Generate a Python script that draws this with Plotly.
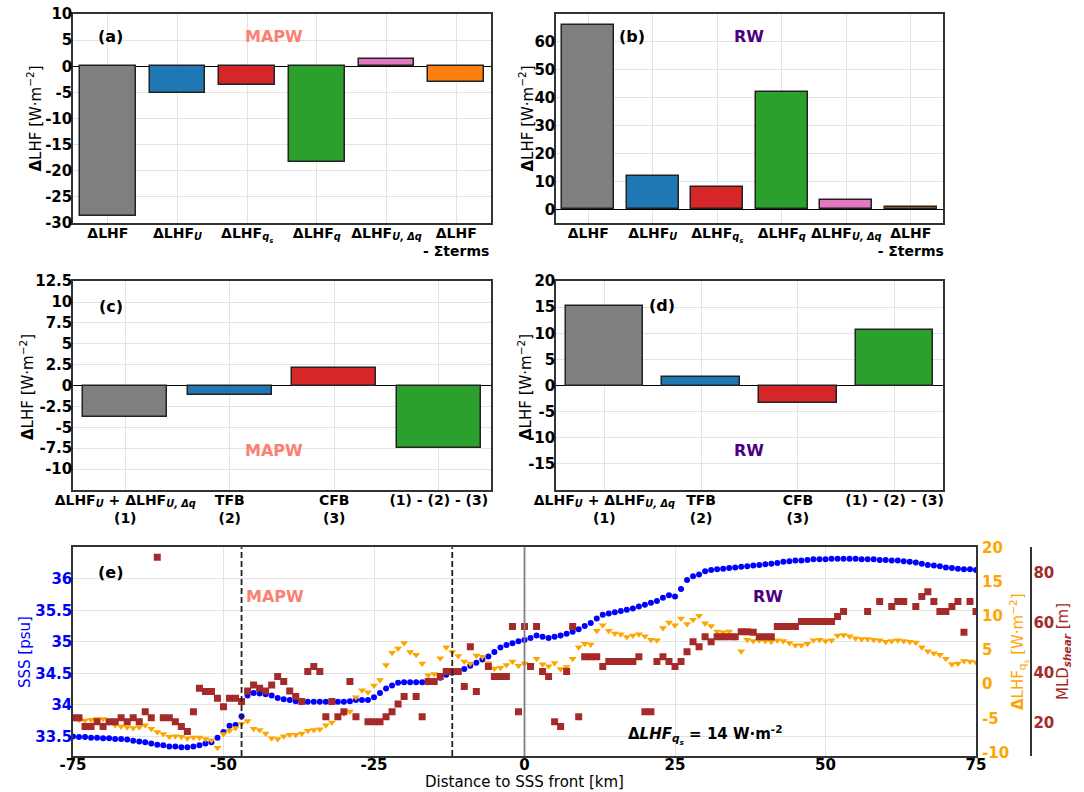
import plotly.graph_objects as go

# ---------------- bar panels (a)-(d) ----------------
term_labels = [
    "<b>ΔLHF</b>",
    "<b>ΔLHF<sub><i>U</i></sub></b>",
    "<b>ΔLHF<sub><i>q<sub>s</sub></i></sub></b>",
    "<b>ΔLHF<sub><i>q</i></sub></b>",
    "<b>ΔLHF<sub><i>U, Δq</i></sub></b>",
    "<b>ΔLHF<br>- Σterms</b>",
]
mapw_terms = [-28.7, -5.2, -3.5, -18.3, 1.35, -3.06]
rw_terms = [65.9, 11.9, 7.9, 42.1, 3.2, 0.8]

feedback_labels = [
    "<b>ΔLHF<sub><i>U</i></sub> + ΔLHF<sub><i>U, Δq</i></sub><br>(1)</b>",
    "<b>TFB<br>(2)</b>",
    "<b>CFB<br>(3)</b>",
    "<b>(1) - (2) - (3)</b>",
]
mapw_feedback = [-3.78, -1.07, 2.15, -7.48]
rw_feedback = [15.2, 1.67, -3.37, 10.6]

bar_colors = ["#7f7f7f", "#1f77b4", "#d62728", "#2ca02c", "#e377c2", "#ff7f0e"]

# ---------------- transect panel (e) ----------------
distance_km = list(range(-75, 76))

sss_psu = [
    33.50, 33.49, 33.49, 33.48, 33.48, 33.47, 33.47, 33.46, 33.46, 33.45,
    33.43, 33.42, 33.41, 33.39, 33.37, 33.36, 33.34, 33.34, 33.33, 33.33,
    33.34, 33.36, 33.39, 33.41, 33.48, 33.57, 33.67, 33.68, 33.82, 34.15,
    34.19, 34.18, 34.17, 34.15, 34.11, 34.09, 34.08, 34.06, 34.06, 34.05,
    34.05, 34.05, 34.05, 34.05, 34.05, 34.05, 34.06, 34.08, 34.08, 34.08,
    34.12, 34.19, 34.26, 34.31, 34.35, 34.36, 34.36, 34.36, 34.36, 34.36,
    34.38, 34.43, 34.48, 34.51, 34.53, 34.57, 34.62, 34.67, 34.72, 34.77,
    34.84, 34.91, 34.95, 34.98, 35.01, 35.03, 35.06, 35.10, 35.08, 35.06,
    35.08, 35.10, 35.13, 35.16, 35.20, 35.25, 35.30, 35.37, 35.43, 35.45,
    35.47, 35.49, 35.51, 35.53, 35.56, 35.59, 35.62, 35.65, 35.70, 35.74,
    35.72, 35.84, 35.98, 36.04, 36.07, 36.12, 36.14, 36.15, 36.16, 36.17,
    36.18, 36.19, 36.20, 36.21, 36.22, 36.23, 36.24, 36.25, 36.27, 36.28,
    36.29, 36.29, 36.30, 36.31, 36.31, 36.31, 36.32, 36.32, 36.32, 36.32,
    36.32, 36.31, 36.31, 36.31, 36.30, 36.30, 36.29, 36.29, 36.28, 36.27,
    36.26, 36.24, 36.22, 36.21, 36.20, 36.18, 36.17, 36.16, 36.15, 36.15,
    36.14,
]

lhf_qs = [
    -5.0, -5.2, -5.3, -5.2, -5.1, -5.1, -5.6, -6.0, -6.2, -6.3,
    -6.4, -6.3, -6.0, -6.5, -7.0, -7.3, -7.7, -7.6, -7.7, -7.9,
    -7.8, -7.8, -8.0, -8.2, -9.3, -7.3, -6.8, -6.4, -5.8, -5.4,
    -6.5, -6.7, -7.2, -7.9, -8.0, -7.6, -7.4, -7.4, -7.2, -6.8,
    -6.7, -6.6, -6.0, -5.6, -4.6, -4.3, -4.0, -1.9, -0.9, -1.2,
    -0.2, 0.6, 2.8, 4.6, 5.2, 6.0, 4.7, 4.3, 3.0, 1.3,
    1.5, 3.8, 5.4, 4.7, 4.1, 3.3, 3.0, 4.2, 4.0, 3.1,
    2.3, 2.4, 2.8, 3.3, 2.7, 3.0, 2.8, 3.7, 2.9, 2.6,
    3.1, 2.2, 2.5, 3.7, 5.4, 5.9, 5.8, 7.8, 8.6, 7.8,
    7.4, 7.3, 6.9, 7.1, 7.3, 7.0, 6.5, 6.4, 8.2, 9.0,
    8.6, 9.6, 8.8, 9.4, 10.0, 8.9, 8.5, 7.7, 7.6, 7.7,
    6.8, 4.8, 6.5, 6.3, 6.4, 6.3, 6.2, 6.4, 6.3, 6.0,
    5.7, 5.7, 5.9, 6.4, 6.5, 6.3, 6.4, 7.1, 7.2, 7.0,
    6.7, 6.6, 6.6, 6.5, 6.4, 6.2, 6.3, 6.4, 6.3, 6.2,
    6.1, 5.4, 4.8, 4.5, 4.3, 3.7, 2.9, 3.0, 3.4, 3.3,
    3.2,
]

mld_shear = [
    22.0, 22.0, 18.4, 18.4, 20.4, 18.4, 20.4, 20.4, 22.0, 20.4,
    22.0, 20.4, 24.4, 22.0, 86.4, 22.0, 22.0, 20.4, 18.4, 16.4,
    24.4, 33.8, 32.5, 32.5, 29.8, 26.4, 29.8, 29.8, 28.5, 32.7,
    35.1, 33.8, 32.7, 35.1, 38.5, 36.5, 32.7, 30.5, 28.5, 40.5,
    42.5, 40.5, 22.4, 28.5, 22.4, 24.4, 36.5, 22.4, None, 20.4,
    20.4, 20.4, 22.4, 24.4, 27.5, 30.5, None, 30.5, 22.4, 36.5,
    36.5, 38.5, 40.5, 40.5, 40.5, 34.5, 50.5, 32.5, None, 42.5,
    38.5, 38.5, 38.5, 58.6, 24.4, 58.6, 42.5, 58.6, 40.5, 38.5,
    20.4, 18.4, 40.5, 58.6, 22.4, 46.5, 46.5, 46.5, 42.5, 44.5,
    44.5, 44.5, 44.5, 44.5, 46.5, 24.4, 24.4, 44.5, 46.5, 44.5,
    42.5, 44.5, 48.5, 52.5, 50.5, 54.5, 52.5, 54.5, 54.5, 54.5,
    54.5, 56.5, 56.5, 56.3, 54.5, 54.5, 54.5, 58.6, 58.6, 58.6,
    58.6, 60.6, 60.6, 60.6, 60.6, 60.6, 60.6, 62.6, 64.6, None,
    None, None, 64.6, None, 68.6, None, 66.6, 68.6, 68.6, None,
    66.6, 70.6, 72.6, 68.6, 64.6, 64.6, 66.6, 68.6, 56.3, 68.6,
    64.6,
]

front_bounds_km = [-47, -12]

# ---------------- styling ----------------
FONT = "DejaVu Sans"
FRAME = "#333333"
GRID = "#e3e3e3"
SALMON = "#fa8072"
INDIGO = "#4b0082"
SSS_COLOR = "#0000ff"
LHF_COLOR = "#ffa500"
MLD_COLOR = "#a52a2a"
TICK_FONT = dict(family=FONT, size=15, color="black", weight="bold")
CAT_FONT = dict(family=FONT, size=14, color="black", weight="bold")
STANDOFF = -4

fig = go.Figure()


def add_bars(values, colors, xa, ya):
    fig.add_trace(go.Bar(
        x=list(range(len(values))), y=values, width=0.8,
        marker=dict(color=colors, line=dict(color="#222222", width=1.5)),
        xaxis=xa, yaxis=ya, showlegend=False, hoverinfo="y",
    ))


add_bars(mapw_terms, bar_colors, "x", "y")
add_bars(rw_terms, bar_colors, "x2", "y2")
add_bars(mapw_feedback, bar_colors[:4], "x3", "y3")
add_bars(rw_feedback, bar_colors[:4], "x4", "y4")

fig.add_trace(go.Scatter(
    x=distance_km, y=sss_psu, mode="markers",
    marker=dict(symbol="circle", size=6, color=SSS_COLOR),
    xaxis="x5", yaxis="y5", showlegend=False,
))
fig.add_trace(go.Scatter(
    x=distance_km, y=lhf_qs, mode="markers",
    marker=dict(symbol="triangle-down", size=7, color=LHF_COLOR),
    xaxis="x5", yaxis="y6", showlegend=False,
))
fig.add_trace(go.Scatter(
    x=distance_km, y=mld_shear, mode="markers",
    marker=dict(symbol="square", size=7, color=MLD_COLOR),
    xaxis="x5", yaxis="y7", showlegend=False,
))


def fmt(v):
    return str(int(v)) if float(v).is_integer() else str(v)


def cat_axis(domain, labels, anchor):
    n = len(labels)
    return dict(
        domain=domain, anchor=anchor, range=[-0.5, n - 0.5],
        tickvals=list(range(n)), ticktext=labels, tickangle=0, automargin=False,
        showgrid=True, gridcolor=GRID, zeroline=False,
        showline=True, mirror=True, linecolor=FRAME, linewidth=1.5,
        ticks="", ticklabelstandoff=STANDOFF, tickfont=CAT_FONT,
    )


def value_axis(domain, rng, ticks, anchor):
    return dict(
        domain=domain, anchor=anchor, range=rng, automargin=False,
        tickvals=ticks, ticktext=[fmt(t) for t in ticks],
        showgrid=True, gridcolor=GRID,
        zeroline=True, zerolinecolor="black", zerolinewidth=1.2,
        showline=True, mirror=True, linecolor=FRAME, linewidth=1.5,
        ticks="", ticklabelstandoff=STANDOFF, tickfont=TICK_FONT,
    )


left_dom = [73 / 1084, 491 / 1084]
right_dom = [556 / 1084, 943 / 1084]
top_row = [1 - 223 / 792, 1 - 14 / 792]
mid_row = [1 - 490 / 792, 1 - 281 / 792]
e_xdom = [73 / 1084, 976 / 1084]
e_ydom = [1 - 756 / 792, 1 - 547.3 / 792]

layout_axes = dict(
    xaxis=cat_axis(left_dom, term_labels, "y"),
    yaxis=value_axis(top_row, [-30.02, 10.02], [-30, -25, -20, -15, -10, -5, 0, 5, 10], "x"),
    xaxis2=cat_axis(right_dom, term_labels, "y2"),
    yaxis2=value_axis(top_row, [-4.9, 69.8], [0, 10, 20, 30, 40, 50, 60], "x2"),
    xaxis3=cat_axis(left_dom, feedback_labels, "y3"),
    yaxis3=value_axis(mid_row, [-12.5, 12.52], [-10, -7.5, -5, -2.5, 0, 2.5, 5, 7.5, 10, 12.5], "x3"),
    xaxis4=cat_axis(right_dom, feedback_labels, "y4"),
    yaxis4=value_axis(mid_row, [-20, 20.02], [-15, -10, -5, 0, 5, 10, 15, 20], "x4"),
    xaxis5=dict(
        domain=e_xdom, anchor="y5", range=[-75, 75], automargin=False,
        tickvals=[-75, -50, -25, 0, 25, 50, 75],
        ticktext=["-75", "-50", "-25", "0", "25", "50", "75"], tickangle=0,
        showgrid=True, gridcolor=GRID, zeroline=False,
        showline=True, mirror=True, linecolor=FRAME, linewidth=1.5,
        ticks="", ticklabelstandoff=-6, tickfont=TICK_FONT,
    ),
    yaxis5=dict(
        domain=e_ydom, anchor="x5", range=[33.19, 36.5], automargin=False,
        tickvals=[33.5, 34, 34.5, 35, 35.5, 36],
        ticktext=["33.5", "34", "34.5", "35", "35.5", "36"],
        showgrid=True, gridcolor=GRID, zeroline=False,
        showline=True, mirror=True, linecolor=FRAME, linewidth=1.5,
        ticks="", ticklabelstandoff=STANDOFF,
        tickfont=dict(TICK_FONT, color=SSS_COLOR),
    ),
    yaxis6=dict(
        overlaying="y5", anchor="x5", side="right", range=[-10.5, 20], automargin=False,
        tickvals=[-10, -5, 0, 5, 10, 15, 20],
        ticktext=["-10", "-5", "0", "5", "10", "15", "20"],
        showgrid=False, zeroline=False, showline=False,
        ticks="", ticklabelstandoff=5,
        tickfont=dict(TICK_FONT, color=LHF_COLOR),
    ),
    yaxis7=dict(
        overlaying="y5", anchor="free", position=1030.7 / 1084, side="right",
        range=[6.6, 90.4], tickvals=[20, 40, 60, 80], automargin=False,
        ticktext=["20", "40", "60", "80"],
        showgrid=False, zeroline=False,
        showline=True, linecolor=FRAME, linewidth=1.5,
        ticks="", ticklabelstandoff=-1,
        tickfont=dict(TICK_FONT, color=MLD_COLOR),
    ),
)

shapes = []
for xb in front_bounds_km:
    shapes.append(dict(type="line", xref="x5", yref="y5 domain", x0=xb, x1=xb, y0=0, y1=1,
                       line=dict(color="#222222", width=1.8, dash="6px,3px")))
shapes.append(dict(type="line", xref="x5", yref="y5 domain", x0=0, x1=0, y0=0, y1=1,
                   line=dict(color="#808080", width=1.8)))


def label(text, xref, yref, x, y, color="black", size=16, xanchor="center", angle=0):
    return dict(text=text, xref=xref, yref=yref, x=x, y=y, showarrow=False,
                xanchor=xanchor, yanchor="middle", textangle=angle,
                font=dict(family=FONT, size=size, color=color))


lhf_unit = "<b>Δ</b>LHF [W·m<sup>−2</sup>]"
annotations = [
    label("<b>(a)</b>", "x domain", "y domain", 0.0897, 0.89),
    label("<b>MAPW</b>", "x domain", "y domain", 0.481, 0.89, SALMON),
    label("<b>(b)</b>", "x2 domain", "y2 domain", 0.1956, 0.89),
    label("<b>RW</b>", "x2 domain", "y2 domain", 0.4987, 0.89, INDIGO),
    label("<b>(c)</b>", "x3 domain", "y3 domain", 0.0909, 0.88),
    label("<b>MAPW</b>", "x3 domain", "y3 domain", 0.481, 0.191, SALMON),
    label("<b>(d)</b>", "x4 domain", "y4 domain", 0.275, 0.885),
    label("<b>RW</b>", "x4 domain", "y4 domain", 0.4987, 0.191, INDIGO),
    label("<b>(e)</b>", "x5 domain", "y5 domain", 0.0419, 0.877),
    label("<b>MAPW</b>", "x5 domain", "y5 domain", 0.1894, 0.762, SALMON, xanchor="left"),
    label("<b>RW</b>", "x5 domain", "y5 domain", 0.7696, 0.762, INDIGO),
    label("<b>Δ<i>LHF</i><sub><i>q<sub>s</sub></i></sub> = 14 W·m<sup>-2</sup></b>",
          "x5 domain", "y5 domain", 0.70, 0.10, size=15),
    # axis titles
    label(lhf_unit, "paper", "paper", 34 / 1084, 1 - 118.5 / 792, size=15, angle=-90),
    label(lhf_unit, "paper", "paper", 526 / 1084, 1 - 118.5 / 792, size=15, angle=-90),
    label(lhf_unit, "paper", "paper", 27 / 1084, 1 - 387 / 792, size=15, angle=-90),
    label(lhf_unit, "paper", "paper", 525 / 1084, 1 - 387 / 792, size=15, angle=-90),
    label("SSS [psu]", "paper", "paper", 25 / 1084, 1 - 652 / 792, SSS_COLOR, size=15, angle=-90),
    label("<b>Δ</b>LHF<sub>q<sub>s</sub></sub> [W·m<sup>−2</sup>]", "paper", "paper",
          1019 / 1084, 1 - 652 / 792, LHF_COLOR, size=15, angle=-90),
    label("MLD<sub><b><i>shear</i></b></sub> [m]", "paper", "paper",
          1063 / 1084, 1 - 652 / 792, MLD_COLOR, size=15, angle=-90),
    label("Distance to SSS front [km]", "paper", "paper", 524 / 1084, 1 - 782 / 792, size=15),
]

fig.update_layout(
    width=1084, height=792,
    margin=dict(l=0, r=0, t=0, b=0, autoexpand=False),
    paper_bgcolor="white", plot_bgcolor="white",
    font=dict(family=FONT, size=15, color="black"),
    showlegend=False, bargap=0,
    shapes=shapes, annotations=annotations,
    **layout_axes,
)

fig.write_html("out.html")
